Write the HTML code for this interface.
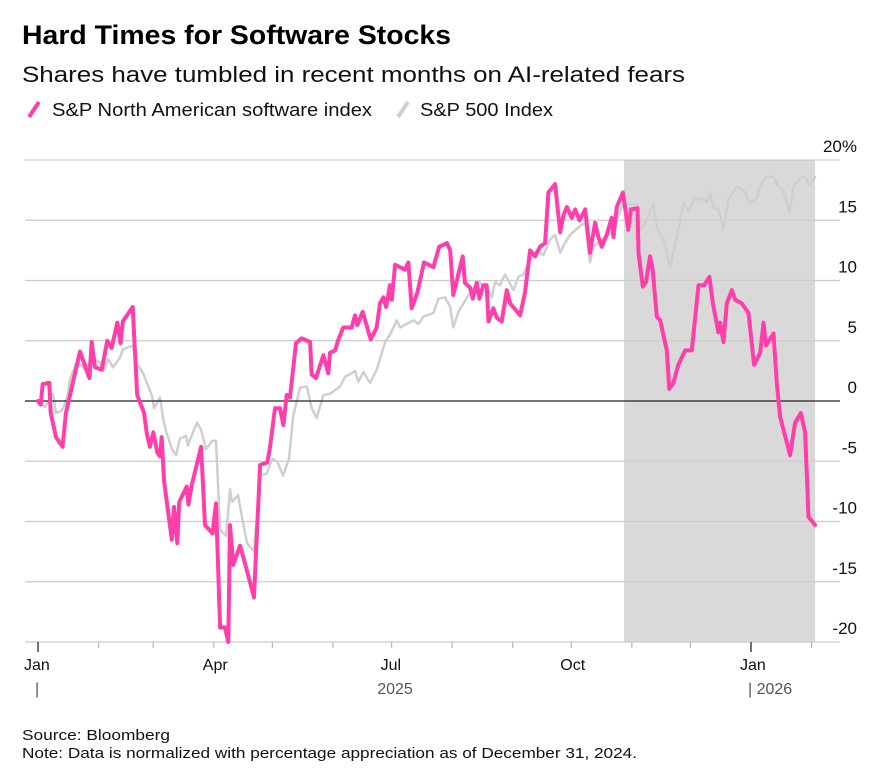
<!DOCTYPE html>
<html><head><meta charset="utf-8"><style>
body{margin:0;background:#fff;font-family:"Liberation Sans",sans-serif;}
svg text{font-family:"Liberation Sans",sans-serif;}
</style></head><body>
<svg id="chart" width="888" height="775" xmlns="http://www.w3.org/2000/svg">
<text x="22" y="44" font-size="27" font-weight="bold" fill="#000" textLength="429" lengthAdjust="spacingAndGlyphs">Hard Times for Software Stocks</text>
<text x="22" y="82" font-size="22" fill="#111" textLength="663" lengthAdjust="spacingAndGlyphs">Shares have tumbled in recent months on AI-related fears</text>
<g>
<line x1="29" y1="117" x2="39" y2="102" stroke="#ff3eaa" stroke-width="4"/>
<text x="52" y="116" font-size="18" fill="#111" textLength="320" lengthAdjust="spacingAndGlyphs">S&amp;P North American software index</text>
<line x1="398" y1="117" x2="408" y2="102" stroke="#cfcfcf" stroke-width="4"/>
<text x="420" y="116" font-size="18" fill="#111" textLength="133" lengthAdjust="spacingAndGlyphs">S&amp;P 500 Index</text>
</g>
<g id="plot"></g>
<text x="22" y="740" font-size="15" fill="#111" textLength="148" lengthAdjust="spacingAndGlyphs">Source: Bloomberg</text>
<text x="22" y="758" font-size="15" fill="#111" textLength="615" lengthAdjust="spacingAndGlyphs">Note: Data is normalized with percentage appreciation as of December 31, 2024.</text>
</svg>
<script>
const yTicks=[20,15,10,5,0,-5,-10,-15,-20];
const yTickLabels=["20%","15","10","5","0","-5","-10","-15","-20"];
const monthLabels=["Jan","Apr","Jul","Oct","Jan"];
const monthLabelDays=[0,90,181,273,365];
const shadeStartDay=300;
const shadeEndDay=397.8;
const swDays=[0,1.4,2.4,5.8,6.5,9.2,12.6,14.3,21.5,26.3,27.5,29.2,32.6,35.5,37.7,40.6,42.3,43.4,48.5,50.8,54.3,55.7,57.3,59,61.1,62.5,63.3,64.5,68.5,69.6,71.3,72.3,76.1,77,78.7,83.5,85.5,89.4,91.1,93.2,95.7,97.4,98.3,100,103.4,105.5,110.6,113.7,117.4,118.8,121.3,123.9,125.6,127.3,129,132.1,135,139.3,140.1,142.3,146.1,148.6,149.5,152.1,153.8,156.3,160.6,162.3,163.5,166.2,170.3,173.4,175.1,176.8,178.2,180.2,181.1,182.8,187.9,189.6,191.3,194.2,197.6,202.4,205.4,209.3,211,212.6,216.1,217.4,218.6,221.2,222.6,224.6,226,228,229.7,230.6,233.1,234.9,237.4,240,241.7,246.8,249.3,251.9,254.5,257,259.6,261.3,264.7,267.3,269,270.7,273.2,275,277.2,280.1,282.6,285.2,286.9,288.6,291.2,293.7,294.6,296.3,299.4,302.2,303.5,306.9,307.4,309.6,311.3,313.3,314.7,316.8,318.5,321.9,323.2,325.3,327.8,331.3,334.7,338.1,341,343.7,345.5,348.3,349.2,350.9,352.6,355.2,356.9,360.3,363.7,366.6,369.7,371.4,372.7,376.5,378.2,379.9,385,387.6,390.5,392.7,393.9,394.4,397.8];
const swValues=[0,-0.3,1.4,1.5,-1,-3,-3.8,-1,4.1,1.9,4.9,2.8,2.6,5,4.4,6.5,4.8,6.6,7.8,0.5,-1,-2.7,-3.8,-2.6,-4.3,-4.6,-3,-6.6,-11.5,-8.8,-11.8,-8.4,-7.1,-8.6,-7,-3.8,-10.3,-11,-8.5,-18.8,-18.8,-20,-10.3,-13.6,-12,-13.2,-16.3,-5.3,-5.1,-3.8,-0.6,-0.6,-2,0.5,0.3,4.8,5.2,4.9,2.2,1.9,3.8,2.3,4,4.2,5.1,6.1,6.1,7.1,6.3,7.4,5.1,6.1,8.1,8.6,7.8,9.6,8.4,11.3,10.9,11.5,7.7,9,11.5,11.1,12.8,13.1,12.5,8.8,11.1,12,9.8,9.4,8.5,9.8,8.5,9.6,9.6,6.6,7.7,6.9,6.6,9.2,8.1,7.1,9,12.5,12,12.8,13.1,17.3,18,14,15.4,16.1,15.2,15.9,15,15.9,12.3,14.8,13.6,12.8,13.8,15.2,13.6,16.1,17.3,14.2,15.9,16,12.3,9.5,9.9,12,10.9,7,6.7,4.2,1,1.5,3,4.2,4.2,9.6,9.6,10.3,8.1,5.7,6.5,4.9,8.1,9.2,8.4,8.1,7.3,3,4,6.5,4.6,5.6,1.5,-1.3,-4.5,-1.8,-1,-2.6,-7.4,-9.6,-10.3];
const spDays=[0,3.6,7.7,9.2,12.3,14.8,16.4,20,24.1,27.6,31.7,33.8,35.8,38.4,42,43.5,48.6,50.7,53.8,58.4,59.4,62.5,64,65.5,68.6,70.7,72.7,75.8,76.8,78.3,81.4,83.5,86,89.1,91.1,93.2,96.3,98.3,99.3,102.4,104.4,107,110.6,113.7,117.2,119.8,122.4,125.4,128.5,130.6,134.1,137.6,140.1,142.7,146.1,149.5,154.6,157.2,160.6,162.3,164,166.6,170,173.4,177.7,180.2,183.7,185.3,188.8,192.2,194.7,197.3,202.4,205,208.4,211,212.6,215.2,217.8,221.2,225.4,229.7,232.3,234,236.5,239.1,243.4,245.9,248.5,251.9,255.3,258.7,262.1,264.7,267.3,269,272.4,276.6,280.1,282.6,284.3,288.6,292.9,297.1,299.7,304,306.5,309.1,312.5,315,316.8,320.2,323.6,326.1,330.4,333,335.5,339.8,342.4,344.1,345.8,348.3,350.9,353.4,357.7,361.1,364.5,368,369.7,372.2,376.5,379.1,381.6,384.7,386.8,390.2,392.7,394.9,397.8];
const spValues=[0,-0.5,0.6,-1,-0.8,0.2,1.8,3.3,2.6,3.6,3.2,2.5,3.5,2.8,3.6,4.3,4.6,3.1,2.3,0.4,-0.6,0.3,-1.4,-2.5,-4,-4.5,-3.1,-2.9,-3.7,-3,-1.8,-2.4,-4,-3.3,-3.3,-10.7,-11.2,-7.3,-8.4,-7.8,-9.6,-11.8,-12.5,-6.2,-6,-4.8,-5,-6.2,-4.8,-1.3,1.1,1.2,-0.6,-1.4,0.5,0.6,1.2,2,2.3,2.5,1.6,2.4,1.5,2.6,4.9,5.5,6.7,6.1,6.4,6.7,6.4,7,7.3,8.5,8.6,7.8,6.1,7.4,8.1,9,9.9,9.4,8.6,9.9,9.6,10.5,9.2,10.3,10.5,11.7,12.5,12.1,13.4,13.8,12.3,12.9,13.8,14.4,14.8,11.5,12.8,13.4,13.9,15.3,16.5,16.3,16.4,14.2,15.3,16.4,14.4,13.4,11.1,12.9,16.4,15.7,16.7,16.8,16.5,17.3,16,15.9,14.3,16.7,17.8,17.5,16.4,16.9,17.8,18.6,18.6,17.8,17.5,15.6,17.8,18.5,18.6,17.9,18.6];

const NS="http://www.w3.org/2000/svg";
const plot=document.getElementById('plot');
const X0=38, PX_PER_DAY=(751-38)/365;
const Y0=401, PX_PER_PCT=12.05;
function xs(d){return X0+d*PX_PER_DAY;}
function ys(v){return Y0-v*PX_PER_PCT;}
function mk(tag,attrs){const e=document.createElementNS(NS,tag);for(const k in attrs)e.setAttribute(k,attrs[k]);plot.appendChild(e);return e;}

const shade=mk('rect',{x:xs(shadeStartDay),y:ys(20),width:xs(shadeEndDay)-xs(shadeStartDay),height:ys(-20)-ys(20),fill:'#d9d9d9'});



yTicks.forEach((t,i)=>{
  if(t!==0){
    const g=mk('line',{x1:25,x2:840,y1:ys(t),y2:ys(t),stroke:'#cccccc','stroke-width':1.3});
    
    
  }
  const lb=mk('text',{x:857,y:ys(t)-8,'font-size':17,'text-anchor':'end',fill:'#111'});
  lb.textContent=yTickLabels[i];
  
  
});

function series(days,vals,color,w,name){
  const d=days.map((dd,i)=>(i?'L':'M')+xs(dd).toFixed(1)+','+ys(vals[i]).toFixed(1)).join('');
  const p=mk('path',{d:d,fill:'none',stroke:color,'stroke-width':w,'stroke-linejoin':'round','stroke-linecap':'round'});
  
  
}
series(spDays,spValues,'#cfcfcf',2.5,'sp500-line');
const zl=mk('line',{x1:25,x2:840,y1:ys(0),y2:ys(0),stroke:'#222','stroke-width':1.3});


series(swDays,swValues,'#ff3eaa',4,'software-index-line');

const monthStarts=[0,31,59,90,120,151,181,212,243,273,304,334,365,396];
monthStarts.forEach((m,i)=>{
  const big=(i===0||i===12);
  const tk=mk('line',{x1:xs(m),x2:xs(m),y1:ys(-20),y2:ys(-20)+(big?10:6),stroke:big?'#222':'#bbb','stroke-width':1.3});
  
  
});
monthLabels.forEach((l,i)=>{
  const t=mk('text',{x:xs(monthLabelDays[i])-(i===0?14:11),y:670,'font-size':16,fill:'#111'});
  t.textContent=l;
  
  
});
const y1=mk('text',{x:395,y:694,'font-size':16,'text-anchor':'middle',fill:'#555'});
y1.textContent='2025';


const y2=mk('text',{x:xs(365)-3,y:694,'font-size':16,fill:'#555'});
y2.textContent='| 2026';


const y0=mk('text',{x:xs(0)-3,y:694,'font-size':16,fill:'#555'});
y0.textContent='|';


</script>
</body></html>
